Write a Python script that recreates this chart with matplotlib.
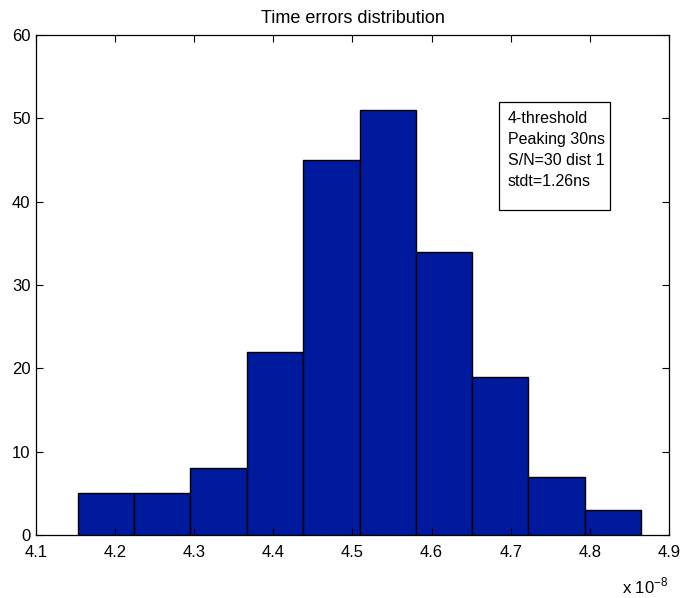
import matplotlib
matplotlib.use("Agg")
import matplotlib.pyplot as plt
from matplotlib.patches import Rectangle
import numpy as np

# Histogram data (x in units of 1e-8 s)
bin_edges = [4.153, 4.224, 4.295, 4.367, 4.438, 4.509, 4.580, 4.651, 4.722, 4.794, 4.865]
counts = [5, 5, 8, 22, 45, 51, 34, 19, 7, 3]
x_ticks = [4.1, 4.2, 4.3, 4.4, 4.5, 4.6, 4.7, 4.8, 4.9]
y_ticks = [0, 10, 20, 30, 40, 50, 60]
info_lines = ["4-threshold", "Peaking 30ns", "S/N=30 dist 1", "stdt=1.26ns"]

plt.rcParams['font.family'] = ['Liberation Sans', 'DejaVu Sans']
plt.rcParams['mathtext.fontset'] = 'custom'
plt.rcParams['mathtext.rm'] = 'Liberation Sans'

fig = plt.figure(figsize=(6.83, 5.98), dpi=100)
ax = fig.add_axes([0.0527, 0.1054, 0.9268, 0.836])

edges = np.array(bin_edges)
widths = np.diff(edges)
ax.bar(edges[:-1], counts, width=widths, align='edge',
       color='#001A9E', edgecolor='black', linewidth=1.0)

ax.set_xlim(4.1, 4.9)
ax.set_ylim(0, 60)
ax.set_xticks(x_ticks)
ax.set_xticklabels([f"{t:.1f}" for t in x_ticks])
ax.set_yticks(y_ticks)
ax.tick_params(direction='in', top=True, right=True, length=5, width=0.8,
               labelsize=12)
ax.tick_params(axis='x', pad=7)
ax.tick_params(axis='y', pad=4)
for s in ax.spines.values():
    s.set_linewidth(0.9)

ax.set_title("Time errors distribution", fontsize=13, pad=9)

# exponent label like MATLAB
fig.text(0.9107, 0.008, r"x 10$^{\mathrm{-8}}$", fontsize=12,
         ha='left', va='baseline')

# info box
ax.add_patch(Rectangle((0.7314, 0.65), 0.1754, 0.216, transform=ax.transAxes,
                       facecolor='white', edgecolor='black', linewidth=0.9,
                       zorder=5))
ax.text(0.7457, 0.849, "\n".join(info_lines), transform=ax.transAxes,
        fontsize=11.5, va='top', ha='left', linespacing=1.52, zorder=6)

fig.savefig("out.png", dpi=100)
